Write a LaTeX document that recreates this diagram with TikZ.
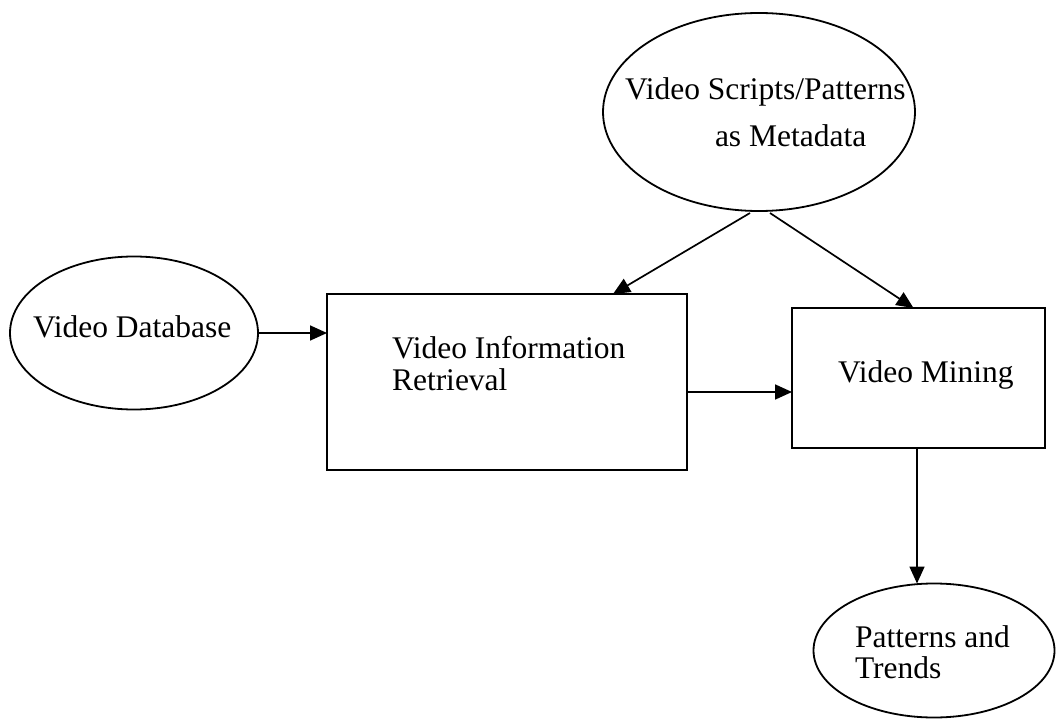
\documentclass[tikz,border=0pt]{standalone}
\usepackage{fontspec}
\setmainfont{Liberation Serif}
\usetikzlibrary{shapes.geometric,arrows.meta}
\begin{document}
\begin{tikzpicture}[x=1pt,y=-1pt,
 every node/.style={inner sep=0pt, outer sep=0pt},
 oval/.style={draw, ellipse, line width=1.8pt},
 box/.style={draw, rectangle, line width=1.8pt},
 lbl/.style={anchor=base west, font=\fontsize{31.5}{32}\selectfont},
 arr/.style={line width=1.7pt, -{Triangle[length=17pt,width=15pt]}}]
\useasboundingbox[fill=white] (0,0) rectangle (1057,719);
% shapes
\node[oval, minimum width=312pt, minimum height=198pt] (meta) at (759,112) {};
\node[oval, minimum width=248pt, minimum height=153pt] (db) at (134,333) {};
\node[box, minimum width=360pt, minimum height=176pt] (vir) at (507,382) {};
\node[box, minimum width=253pt, minimum height=140pt] (vm) at (918.5,378) {};
\node[oval, minimum width=241pt, minimum height=134pt] (pat) at (934,650.5) {};
% labels
\node[lbl] (metat1) at (625,100) {Video Scripts/Patterns};
\node[lbl] (metat2) at (715,147) {as Metadata};
\node[lbl] (dbt) at (33,337) {Video Database};
\node[lbl] (virt1) at (392,358) {Video Information};
\node[lbl] (virt2) at (392,390) {Retrieval};
\node[lbl] (vmt) at (838,382) {Video Mining};
\node[lbl] (patt1) at (855,647) {Patterns and};
\node[lbl] (patt2) at (855,678) {Trends};
% connectors
\draw[arr] (db.east) -- (vir.west |- db.east);
\draw[arr] ([yshift=-10pt]vir.east) coordinate (a) -- (vm.west |- a);
\draw[arr] ([xshift=-9pt,yshift=-2pt]meta.south) -- ([xshift=106pt]vir.north);
\draw[arr] ([xshift=11pt,yshift=-2pt]meta.south) -- ([xshift=-5pt]vm.north);
\draw[arr] ([xshift=-1.5pt]vm.south) -- ([xshift=-1.5pt]vm.south |- pat.north);
\end{tikzpicture}
\end{document}
